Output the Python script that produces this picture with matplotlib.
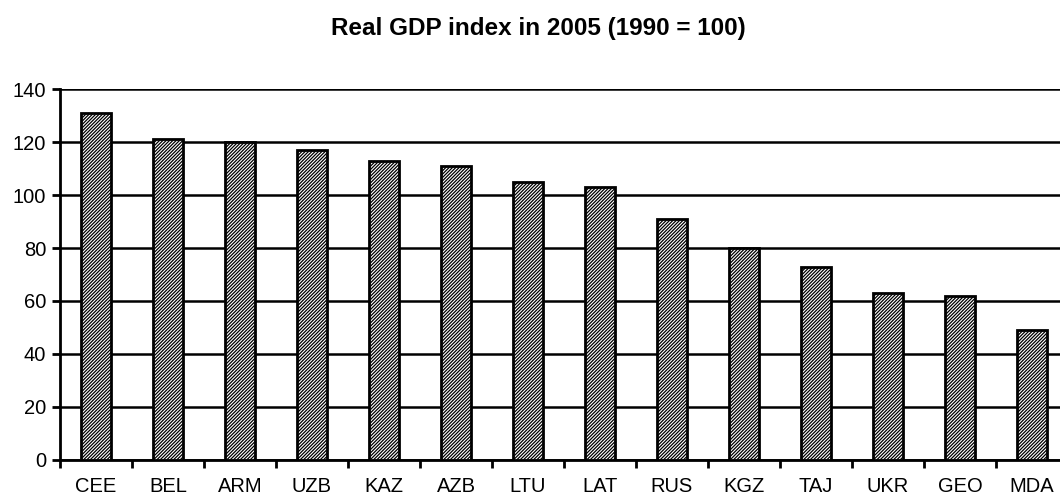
import matplotlib.pyplot as plt
import numpy as np

plt.rcParams["font.family"] = ["Liberation Sans", "DejaVu Sans"]
plt.rcParams["hatch.linewidth"] = 0.9

# data
countries = ["CEE", "BEL", "ARM", "UZB", "KAZ", "AZB", "LTU", "LAT",
             "RUS", "KGZ", "TAJ", "UKR", "GEO", "MDA"]
gdp_index = [131, 121, 120, 117, 113, 111, 105, 103, 91, 80, 73, 63, 62, 49]

fig = plt.figure(figsize=(10.6, 4.99), dpi=100)
ax = fig.add_axes([0.0566, 0.0782, 0.9509, 0.7434])

x = np.arange(len(countries)) + 0.5
ax.bar(x, gdp_index, width=0.42, color="white", edgecolor="black",
       linewidth=2, hatch="//////////", zorder=3)

ax.set_xlim(0, len(countries))
ax.set_ylim(0, 140)
ax.set_yticks(np.arange(0, 141, 20))
ax.grid(axis="y", color="black", linewidth=1.8, zorder=0)

# category labels centred, ticks at boundaries
ax.set_xticks(np.arange(len(countries) + 1))
ax.set_xticklabels([])
ax.set_xticks(x, minor=True)
ax.set_xticklabels(countries, minor=True)
ax.tick_params(axis="x", which="minor", length=0, pad=12, labelsize=14.5)
ax.tick_params(axis="x", which="major", length=6, width=2, direction="out")
ax.tick_params(axis="y", length=6, width=2, direction="out", labelsize=14.5, pad=4)

for side in ["top", "right"]:
    ax.spines[side].set_visible(False)
ax.spines["left"].set_linewidth(2)
ax.spines["bottom"].set_linewidth(2)

fig.suptitle("Real GDP index in 2005 (1990 = 100)", fontsize=17.5,
             fontweight="bold", y=0.965, x=0.508)

fig.savefig("out.png", dpi=100)
